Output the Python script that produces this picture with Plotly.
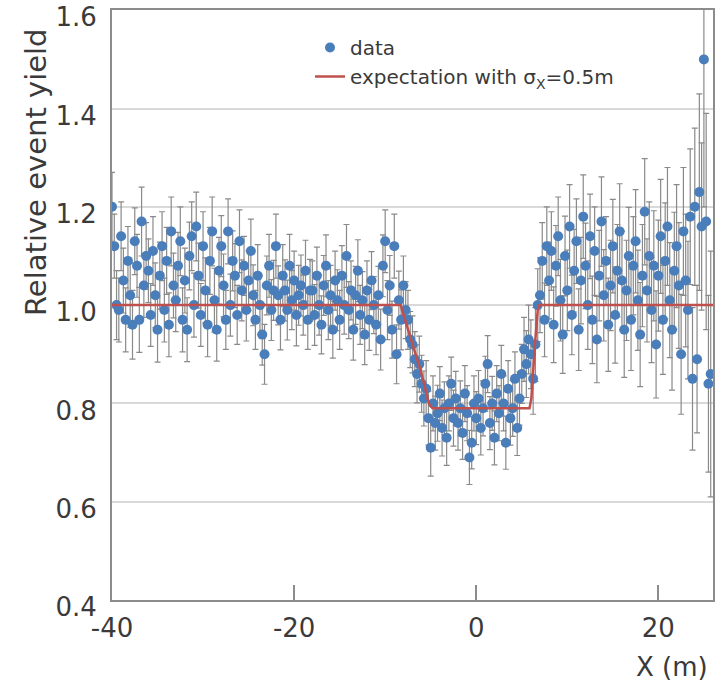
import numpy as np
import plotly.graph_objects as go

# ---- data ----
x_start = -40.0
x_step = 0.25

yield_vals = [
    # -40 .. -29
    1.20, 1.12, 1.00, 0.99,  1.14, 1.05, 0.97, 1.09,  1.02, 0.96, 1.13, 1.08,
    0.97, 1.17, 1.04, 1.10,  1.07, 0.98, 1.11, 1.02,  0.95, 1.06, 1.12, 0.99,
    1.09, 0.96, 1.15, 1.04,  1.01, 1.08, 1.13, 0.97,  1.05, 0.95, 1.10, 1.14,
    1.00, 1.16, 1.06, 0.98,  1.12, 1.03, 0.96, 1.09,  1.15, 1.01, 0.95, 1.07,
    # -28 .. -19
    1.12, 1.04, 0.97, 1.15,  1.00, 1.09, 1.06, 0.98,  1.13, 1.03, 1.08, 0.99,
    1.05, 1.11, 1.02, 0.97,  1.06, 1.00, 0.94, 0.90,  1.04, 1.08, 0.99, 1.03,
    1.12, 1.02, 0.97, 1.06,  1.03, 0.99, 1.08, 1.01,  1.05, 0.98, 1.02, 1.04,
    1.00, 1.07, 0.97, 1.03,
    # -18 .. -9
    1.03, 0.98, 1.06, 1.00,  0.96, 1.04, 1.08, 0.99,  1.02, 0.95, 1.05, 1.01,
    0.97, 1.06, 1.00, 1.10,  0.99, 1.03, 0.95, 1.02,  1.07, 0.98, 1.01, 0.94,
    1.03, 0.97, 1.05, 1.00,  0.96, 1.02, 0.93, 1.08,  1.13, 0.99, 1.04, 0.95,
    1.12, 0.90, 1.01, 0.97,
    # -8 .. -5
    1.04, 0.99, 0.97, 0.93,  0.92, 0.89, 0.86, 0.88,  0.84, 0.81, 0.83, 0.77,
    0.71, 0.80, 0.76, 0.78,
    # -4 .. 5
    0.82, 0.75, 0.79, 0.73,  0.80, 0.84, 0.77, 0.81,  0.76, 0.79, 0.74, 0.82,
    0.78, 0.69, 0.72, 0.80,  0.77, 0.81, 0.75, 0.79,  0.84, 0.88, 0.76, 0.80,
    0.73, 0.82, 0.78, 0.86,  0.80, 0.72, 0.83, 0.77,  0.79, 0.85, 0.75, 0.81,
    0.86, 0.91, 0.88, 0.93,
    # 6 .. 25
    0.90, 0.85, 0.92, 1.00,  1.02, 1.09, 0.97, 1.12,  1.05, 1.11, 0.96, 1.08,
    1.14, 1.01, 0.94, 1.10,  1.03, 1.16, 0.98, 1.07,  1.13, 0.95, 1.05, 1.18,
    1.08, 1.00, 1.14, 0.97,  1.11, 0.93, 1.06, 1.17,  1.02, 1.09, 0.96, 1.04,
    1.12, 0.98, 1.07, 1.15,  1.05, 0.95, 1.03, 1.10,  0.97, 1.08, 1.13, 1.01,
    0.94, 1.06, 1.19, 1.03,  1.10, 0.99, 1.08, 0.92,  1.06, 1.14, 0.97, 1.09,
    1.16, 1.01, 0.95, 1.07,  1.12, 1.04, 0.90, 1.15,  1.05, 0.99, 1.18, 0.85,
    1.20, 0.89, 1.23, 1.16,  1.50, 1.17, 0.84, 0.86,
]

yield_err = [
    # -40 .. -29
    .070, .065, .070, .065, .070, .066, .065, .070, .065, .070, .068, .064,
    .066, .070, .065, .068, .065, .064, .070, .066, .066, .068, .070, .065,
    .068, .065, .070, .066, .064, .068, .070, .065, .066, .065, .069, .070,
    .065, .070, .066, .064, .070, .066, .065, .068, .070, .065, .064, .068,
    # -28 .. -19
    .062, .064, .060, .066, .063, .061, .065, .060, .064, .062, .060, .063,
    .061, .065, .062, .060, .063, .060, .062, .061, .060, .064, .062, .061,
    .065, .060, .061, .063, .062, .061, .064, .060, .060, .063, .061, .062,
    .061, .062, .060, .063,
    # -18 .. -9
    .060, .062, .058, .061, .059, .061, .063, .060, .061, .058, .060, .062,
    .060, .061, .059, .064, .058, .060, .062, .059, .063, .060, .058, .061,
    .060, .062, .059, .058, .061, .059, .062, .063, .064, .060, .061, .058,
    .065, .060, .059, .061,
    # -8 .. -5
    .060, .058, .060, .057, .058, .056, .059, .057, .058, .056, .057, .055,
    .058, .056, .055, .057,
    # -4 .. 5
    .055, .057, .054, .056, .056, .054, .057, .055, .055, .056, .054, .057,
    .056, .055, .053, .056, .054, .057, .055, .056, .056, .058, .054, .055,
    .055, .057, .056, .058, .056, .054, .057, .055, .057, .055, .056, .054,
    .060, .065, .068, .070,
    # 6 .. 25
    .070, .072, .075, .074, .076, .078, .075, .080, .078, .080, .077, .082,
    .080, .083, .079, .081, .082, .085, .081, .084, .086, .083, .088, .085,
    .087, .090, .086, .089, .090, .088, .092, .091, .093, .090, .095, .092,
    .095, .098, .094, .097, .100, .097, .102, .099, .103, .100, .105, .102,
    .106, .104, .108, .105, .110, .107, .112, .109, .113, .116, .111, .118,
    .120, .117, .123, .119, .125, .128, .122, .130, .135, .140, .138, .145,
    .160, .150, .200, .170, .300, .220, .180, .250,
]

expect_x = [-40, -8.3, -7.9, -7.0, -6.0, -5.2, -4.8, 5.85, 6.05, 6.45, 6.75, 6.95, 26]
expect_y = [1.0, 1.0, 0.975, 0.92, 0.86, 0.80, 0.79, 0.79, 0.81, 0.92, 0.99, 1.0, 1.0]

x_ticks = [-40, -20, 0, 20]
x_ticktext = ["-40", "-20", "0", "20"]
y_ticks = [0.4, 0.6, 0.8, 1.0, 1.2, 1.4, 1.6]
y_ticktext = ["0.4", "0.6", "0.8", "1.0", "1.2", "1.4", "1.6"]

x_vals = x_start + x_step * np.arange(len(yield_vals))

FONT = "DejaVu Sans"
TXT = "#3a3a3a"
AX = "#8c8c8c"

fig = go.Figure()
fig.add_trace(go.Scatter(
    x=x_vals, y=yield_vals, mode="markers", name="data",
    marker=dict(color="#4a7ebb", size=10),
    error_y=dict(type="data", array=yield_err, color="#8a8a8a", thickness=1.2, width=3),
))
fig.add_trace(go.Scatter(
    x=expect_x, y=expect_y, mode="lines",
    name="expectation with σ<sub>X</sub>=0.5m",
    line=dict(color="#c0504d", width=2.5),
))

W, H = 721, 689
L, R, T, B = 112, 8, 10, 89
pw, ph = W - L - R, H - T - B

fig.update_layout(
    width=W, height=H,
    margin=dict(l=L, r=R, t=T, b=B, autoexpand=False),
    paper_bgcolor="white", plot_bgcolor="white",
    font=dict(family=FONT, color=TXT),
    legend=dict(
        x=(310 - L) / pw, y=(H - B - 28) / ph, xanchor="left", yanchor="top",
        bgcolor="rgba(0,0,0,0)", font=dict(size=20, color=TXT),
        tracegroupgap=0,
    ),
    xaxis=dict(
        range=[-40, 26], tickvals=x_ticks, ticktext=x_ticktext,
        ticks="inside", ticklen=15,
        tickwidth=2, tickcolor=AX, showgrid=False, zeroline=False,
        showline=True, linecolor=AX, linewidth=2, mirror=True, automargin=False,
        tickfont=dict(size=26, color=TXT), ticklabelstandoff=4,
        ticklabeloverflow="allow",
    ),
    yaxis=dict(
        range=[0.4, 1.6005], tickvals=y_ticks, ticktext=y_ticktext,
        showgrid=True, gridcolor="#d9d9d9", gridwidth=2, zeroline=False,
        showline=True, linecolor=AX, linewidth=2, mirror=True, automargin=False,
        tickfont=dict(size=26, color=TXT), ticklabelstandoff=8,
        ticklabelshift=7, ticklabeloverflow="allow",
    ),
    annotations=[
        dict(text="Relative event yield", textangle=-90, showarrow=False,
             xref="paper", yref="paper", x=(36 - L) / pw, y=(H - B - 172) / ph,
             xanchor="center", yanchor="middle", font=dict(size=29, color=TXT)),
        dict(text="X (m)", showarrow=False,
             xref="paper", yref="paper", x=(672 - L) / pw, y=(H - B - 667) / ph,
             xanchor="center", yanchor="middle", font=dict(size=26, color=TXT)),
    ],
)

fig.write_html("out.html", config={"displayModeBar": False},
               post_script="document.body.style.margin='0px';")
